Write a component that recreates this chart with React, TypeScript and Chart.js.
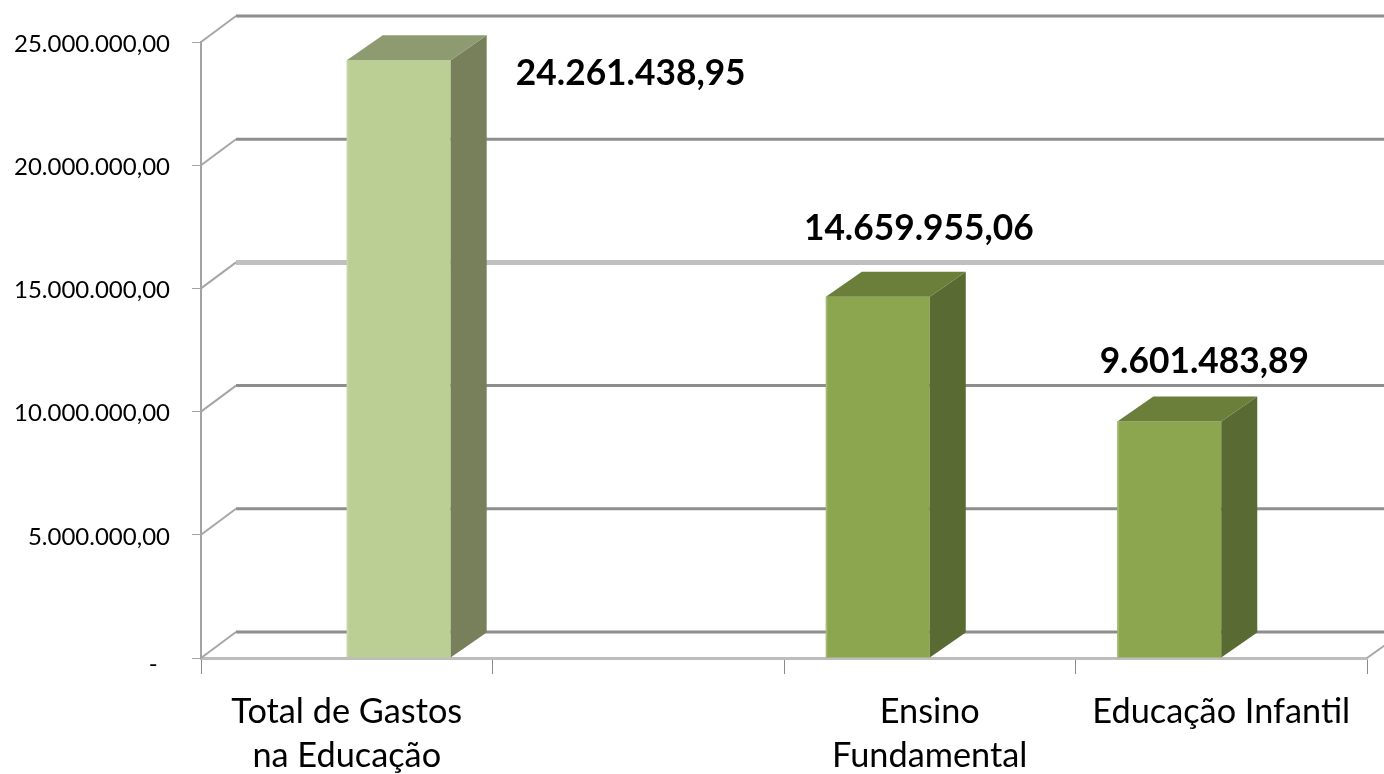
import React, { useEffect, useRef } from "react";
import { Chart, registerables } from "chart.js";

Chart.register(...registerables);

const categories: (string | string[])[] = [
  ["Total de Gastos", "na Educação"],
  "",
  ["Ensino", "Fundamental"],
  "Educação Infantil",
];
const seriesDark: (number | null)[] = [null, null, 14659955.06, 9601483.89];
const seriesLight: (number | null)[] = [24261438.95, null, null, null];

const DX = 35;
const DY = -25;
const BAR_DX = 36;
const FONT = "Lato";

function fmt(v: number): string {
  const [i, d] = v.toFixed(2).split(".");
  return i.replace(/\B(?=(\d{3})+(?!\d))/g, ".") + "," + d;
}

const wallPlugin = {
  id: "wall",
  beforeDatasetsDraw(chart: any) {
    const { ctx, scales, chartArea } = chart;
    const y = scales.y;
    const l = chartArea.left;
    const r = chartArea.right;
    ctx.save();
    ctx.lineCap = "butt";
    y.ticks.forEach((t: any, i: number) => {
      const py = y.getPixelForTick(i);
      ctx.strokeStyle = t.value === 15000000 ? "#c0c0c0" : "#8e8e8e";
      ctx.lineWidth = t.value === 15000000 ? 5 : 3;
      ctx.beginPath();
      ctx.moveTo(l + DX, py + DY - 1);
      ctx.lineTo(r + DX, py + DY - 1);
      ctx.stroke();
      ctx.strokeStyle = "#a6a6a6";
      ctx.lineWidth = 2;
      ctx.beginPath();
      ctx.moveTo(l, py);
      ctx.lineTo(l + DX, py + DY - 1);
      ctx.stroke();
    });
    const y0 = y.getPixelForValue(0);
    ctx.strokeStyle = "#a6a6a6";
    ctx.lineWidth = 2;
    ctx.beginPath();
    ctx.moveTo(r, y0);
    ctx.lineTo(r + DX, y0 + DY);
    ctx.stroke();
    ctx.restore();
  },
};

const bar3dPlugin = {
  id: "bar3d",
  afterDatasetsDraw(chart: any) {
    const { ctx } = chart;
    chart.data.datasets.forEach((ds: any, di: number) => {
      const meta = chart.getDatasetMeta(di);
      meta.data.forEach((bar: any, i: number) => {
        if (ds.data[i] == null) return;
        const half = bar.width / 2;
        const l = bar.x - half;
        const r = bar.x + half;
        const t = bar.y;
        const b = bar.base;
        ctx.fillStyle = ds.sideColor;
        ctx.beginPath();
        ctx.moveTo(r, t);
        ctx.lineTo(r + BAR_DX, t + DY);
        ctx.lineTo(r + BAR_DX, b + DY);
        ctx.lineTo(r, b);
        ctx.closePath();
        ctx.fill();
        ctx.fillStyle = ds.topColor;
        ctx.beginPath();
        ctx.moveTo(l, t);
        ctx.lineTo(l + BAR_DX, t + DY);
        ctx.lineTo(r + BAR_DX, t + DY);
        ctx.lineTo(r, t);
        ctx.closePath();
        ctx.fill();
        // soft bevel on the front face's left edge
        ctx.fillStyle = ds.edgeColor;
        ctx.fillRect(l, t, 1.5, b - t);
      });
    });
  },
};

const valueLabelPlugin = {
  id: "valueLabels",
  afterDraw(chart: any) {
    const { ctx } = chart;
    ctx.save();
    ctx.font = `bold 35.3px ${FONT}`;
    ctx.fillStyle = "#000";
    ctx.textAlign = "center";
    ctx.textBaseline = "middle";
    chart.data.datasets.forEach((ds: any, di: number) => {
      const meta = chart.getDatasetMeta(di);
      meta.data.forEach((bar: any, i: number) => {
        const v = ds.data[i];
        if (v == null) return;
        const [ox, oy] = ds.labelOffset(i);
        ctx.fillText(fmt(v), bar.x + ox, bar.y + oy);
      });
    });
    ctx.restore();
  },
};

export default function App() {
  const ref = useRef<HTMLCanvasElement>(null);
  useEffect(() => {
    const chart = new Chart(ref.current!, {
      type: "bar",
      data: {
        labels: categories as any,
        datasets: [
          {
            data: seriesDark,
            backgroundColor: "#8ba64f",
            borderWidth: 0,
            sideColor: "#5a6a33",
            topColor: "#6b7f3b",
            edgeColor: "#a3bc72",
            labelOffset: (i: number) => (i === 2 ? [41, -68] : [35, -60]),
          } as any,
          {
            data: seriesLight,
            backgroundColor: "#bbcf95",
            borderWidth: 0,
            sideColor: "#77805b",
            topColor: "#8e9a70",
            edgeColor: "#c6d8a6",
            labelOffset: () => [232, 13],
          } as any,
        ],
      },
      options: {
        responsive: false,
        animation: false,
        devicePixelRatio: 1,
        layout: { padding: { top: 42, right: 17, left: 0, bottom: 0 } },
        plugins: { legend: { display: false }, tooltip: { enabled: false } },
        datasets: { bar: { categoryPercentage: 0.713, barPercentage: 1 } },
        scales: {
          x: {
            afterFit(scale: any) {
              scale.height = 116;
            },
            border: { color: "#bdbdbd", width: 3 },
            grid: { drawOnChartArea: false, drawTicks: true, tickLength: 16, color: "#8a8a8a", lineWidth: 1 },
            ticks: {
              color: "#000",
              font: { family: FONT, size: 34.3, lineHeight: 1.31 },
              maxRotation: 0,
              autoSkip: false,
              padding: 15,
            },
          },
          y: {
            min: 0,
            max: 25000000,
            afterFit(scale: any) {
              scale.width = 201;
            },
            afterBuildTicks(scale: any) {
              scale.ticks = [0, 5, 10, 15, 20, 25].map((m) => ({ value: m * 1000000 }));
            },
            border: { color: "#a3a3a3", width: 2 },
            grid: { drawOnChartArea: false, drawTicks: true, tickLength: 9, color: "#a3a3a3", lineWidth: 1 },
            ticks: {
              color: "#000",
              font: (c: any) => ({
                family: FONT,
                size: 24,
                lineHeight: c.tick && c.tick.value === 0 ? "8px" : 1.2,
              }),
              padding: 22,
              labelOffset: 2,
              callback: (v: any) => (Number(v) === 0 ? ["", "-  "] : fmt(Number(v))),
            },
          },
        },
      } as any,
      plugins: [wallPlugin, bar3dPlugin, valueLabelPlugin],
    });
    return () => chart.destroy();
  }, []);
  return (
    <canvas
      ref={ref}
      width={1384}
      height={774}
      style={{ position: "fixed", left: 0, top: 0, width: 1384, height: 774, display: "block" }}
    />
  );
}
